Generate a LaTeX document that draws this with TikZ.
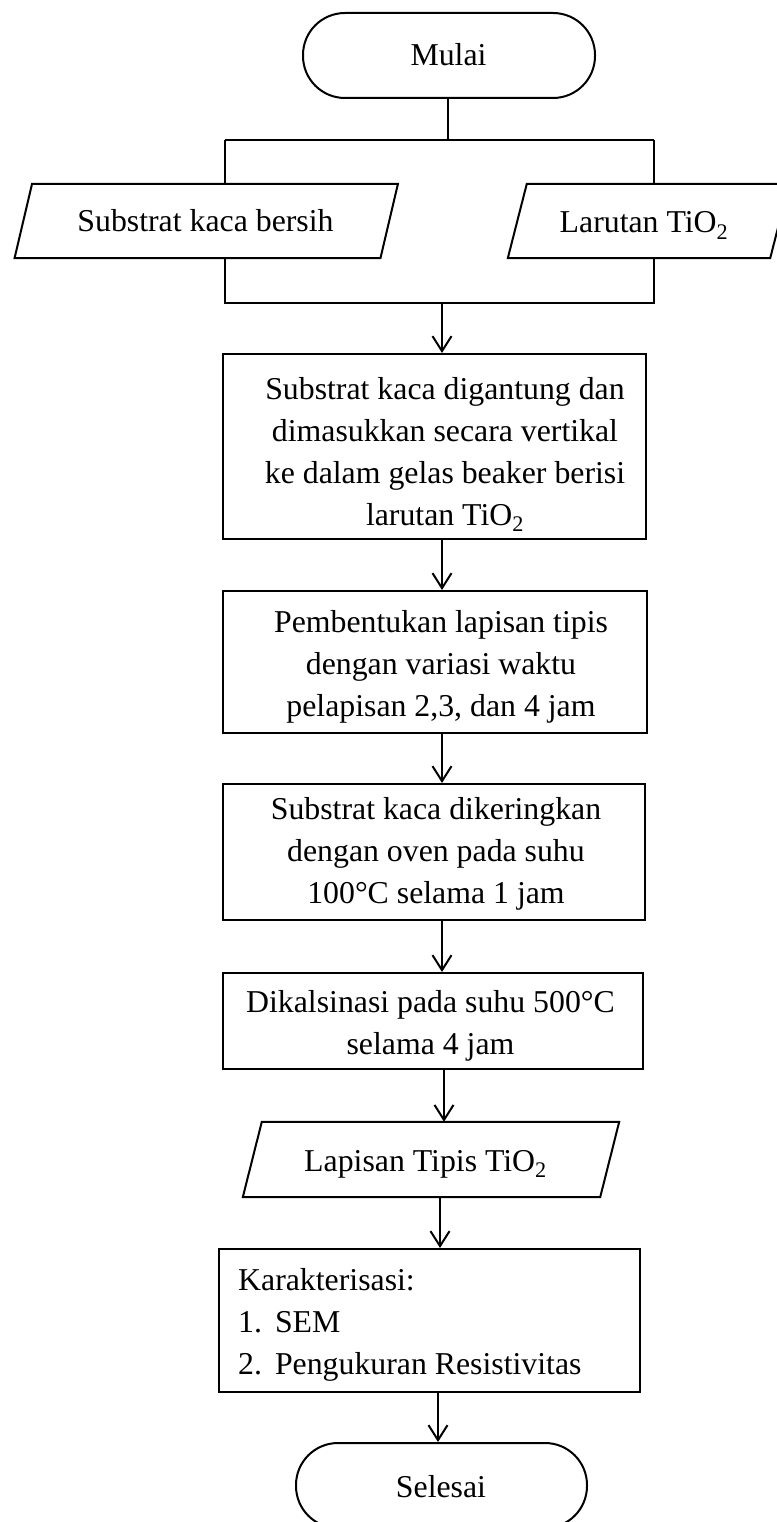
\documentclass[tikz,border=0pt]{standalone}
\usepackage{fontspec}
\setmainfont{Liberation Serif}
\usetikzlibrary{arrows.meta}
\begin{document}
\begin{tikzpicture}[x=1pt,y=-1pt,
  txt/.style={font=\fontsize{31.8}{42}\selectfont, inner sep=0pt},
  mline/.style={txt, align=center, anchor=north},
  ln/.style={line width=2pt},
  arr/.style={line width=2pt, -{Straight Barb[length=15pt,width=19pt]}},
  procbox/.style={draw, line width=2pt, inner sep=0pt},
  termbox/.style={draw, line width=2pt, inner sep=0pt, rounded corners=42pt},
  iocore/.style={inner sep=0pt},
]
\useasboundingbox (0,0) rectangle (776,1522);

% start terminal
\node[termbox, minimum width=292pt, minimum height=85pt] (mulai) at (449,55.5) {};
\node[txt, anchor=base] (tmulai) at (448.5,66) {Mulai};

% input parallelograms
\node[iocore, minimum width=365.5pt, minimum height=74pt] (inL) at (206.25,221) {};
\draw[ln] ([xshift=8.75pt]inL.north west) -- ([xshift=8.75pt]inL.north east)
  -- ([xshift=-8.75pt]inL.south east) -- ([xshift=-8.75pt]inL.south west) -- cycle;
\node[txt, anchor=base] (tinL) at (205.5,232) {Substrat kaca bersih};

\node[iocore, minimum width=262pt, minimum height=74pt] (inR) at (648.5,221) {};
\draw[ln] ([xshift=9.5pt]inR.north west) -- ([xshift=9.5pt]inR.north east)
  -- ([xshift=-9.5pt]inR.south east) -- ([xshift=-9.5pt]inR.south west) -- cycle;
\node[txt, anchor=base] (tinR) at (644,233) {Larutan TiO\textsubscript{2}};

% process boxes
\node[procbox, minimum width=423pt, minimum height=185pt] (b1) at (434.5,446.5) {};
\node[mline] (t1) at (445,369.6) {\strut Substrat kaca digantung dan\\ dimasukkan secara vertikal\\ ke dalam gelas beaker berisi\\ larutan TiO\textsubscript{2}};

\node[procbox, minimum width=424pt, minimum height=142pt] (b2) at (435,662) {};
\node[mline] (t2) at (441,602.6) {\strut Pembentukan lapisan tipis\\ dengan variasi waktu\\ pelapisan 2,3, dan 4 jam};

\node[procbox, minimum width=422pt, minimum height=136pt] (b3) at (434,852) {};
\node[mline] (t3) at (436,789.6) {\strut Substrat kaca dikeringkan\\ dengan oven pada suhu\\ 100°C selama 1 jam};

\node[procbox, minimum width=420pt, minimum height=96pt] (b4) at (433,1021) {};
\node[mline] (t4) at (430.5,982.6) {\strut Dikalsinasi pada suhu 500°C\\ selama 4 jam};

% output parallelogram
\node[iocore, minimum width=357pt, minimum height=75pt] (out) at (431,1159.5) {};
\draw[ln] ([xshift=9.5pt]out.north west) -- ([xshift=9.5pt]out.north east)
  -- ([xshift=-9.5pt]out.south east) -- ([xshift=-9.5pt]out.south west) -- cycle;
\node[txt, anchor=base] (tout) at (425.5,1171) {Lapisan Tipis TiO\textsubscript{2}};

\node[procbox, minimum width=421pt, minimum height=143pt] (b5) at (429.5,1320.5) {};
\node[txt, align=left, anchor=north west] (t5) at (238,1260.6) {\strut Karakterisasi:\\ 1.\hspace{13pt}SEM\\ 2.\hspace{13pt}Pengukuran Resistivitas};

% end terminal
\node[termbox, minimum width=291pt, minimum height=85pt] (selesai) at (441.5,1485.5) {};
\node[txt, anchor=base] (tselesai) at (441,1497) {Selesai};

% connector junctions
\coordinate (sp) at (448,140);
\coordinate (spl) at (225,140);
\coordinate (spr) at (654,140);
\coordinate (jl) at (225,303);
\coordinate (jr) at (654,303);
\coordinate (jc) at (442,303);
\coordinate (axA) at (442,0);
\coordinate (axB) at (444,0);
\coordinate (axC) at (440,0);
\coordinate (axD) at (438,0);

\draw[ln] (mulai.south -| sp) -- (sp);
\draw[ln] (spl) -- (spr);
\draw[ln] (spl) -- (spl |- inL.north);
\draw[ln] (spr) -- (spr |- inR.north);
\draw[ln] (inL.south -| jl) -- (jl) -- (jr) -- (inR.south -| jr);
\draw[arr] (jc) -- (jc |- b1.north);
\draw[arr] (b1.south -| axA) -- (b2.north -| axA);
\draw[arr] (b2.south -| axA) -- (b3.north -| axA);
\draw[arr] (b3.south -| axA) -- (b4.north -| axA);
\draw[arr] (b4.south -| axB) -- (out.north -| axB);
\draw[arr] (out.south -| axC) -- (b5.north -| axC);
\draw[arr] (b5.south -| axD) -- (selesai.north -| axD);
\end{tikzpicture}
\end{document}
